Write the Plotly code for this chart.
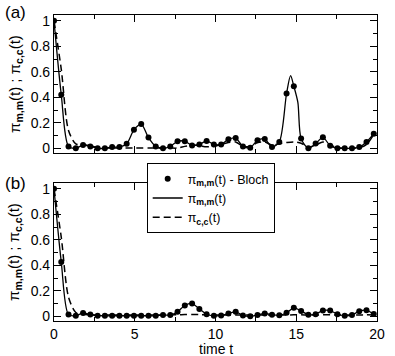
import plotly.graph_objects as go

# time grid of the Bloch points (dt = 0.45)
t = [0.45 * i for i in range(45)]

# panel (a)
bloch_a = [1.0, 0.42, 0.015, 0.0, 0.025, 0.015, 0.0, 0.0, 0.01, 0.01,
           0.035, 0.145, 0.19, 0.084, 0.015, 0.0, 0.015, 0.055, 0.055, 0.022,
           0.03, 0.058, 0.03, 0.03, 0.07, 0.08, 0.015, 0.005, 0.063, 0.073,
           0.01, 0.05, 0.43, 0.487, 0.076, 0.0, 0.037, 0.086, 0.02, 0.0,
           0.0, 0.0, 0.01, 0.05, 0.115]
# extra points of the solid curve around the big peak
peak_t_a = [14.65, 15.1]
peak_v_a = [0.57, 0.36]
pcc_a = [1.0, 0.62, 0.14, 0.035, 0.03, 0.02, 0.005, 0.002, 0.002, 0.002,
         0.002, 0.002, 0.002, 0.002, 0.002, 0.002, 0.002, 0.002, 0.015, 0.025,
         0.02, 0.012, 0.015, 0.03, 0.045, 0.05, 0.015, 0.015, 0.045, 0.05,
         0.025, 0.035, 0.045, 0.05, 0.04, 0.01, 0.025, 0.05, 0.025, 0.005,
         0.0, 0.0, 0.005, 0.03, 0.11]

# panel (b)
bloch_b = [1.0, 0.426, 0.013, 0.005, 0.026, 0.013, 0.005, 0.004, 0.004, 0.004,
           0.004, 0.004, 0.004, 0.004, 0.004, 0.01, 0.01, 0.035, 0.085, 0.1,
           0.058, 0.016, 0.004, 0.006, 0.022, 0.035, 0.006, 0.0, 0.01, 0.022,
           0.012, 0.008, 0.028, 0.066, 0.042, 0.012, 0.016, 0.046, 0.045, 0.016,
           0.004, 0.01, 0.04, 0.047, 0.017]
pcc_b = [1.0, 0.62, 0.15, 0.03, 0.015, 0.012, 0.01, 0.01, 0.01, 0.01,
         0.01, 0.01, 0.01, 0.01, 0.01, 0.01, 0.01, 0.012, 0.013, 0.014,
         0.013, 0.012, 0.01, 0.01, 0.01, 0.01, 0.01, 0.01, 0.01, 0.01,
         0.01, 0.01, 0.01, 0.012, 0.012, 0.01, 0.01, 0.012, 0.012, 0.01,
         0.01, 0.01, 0.01, 0.012, 0.01]

solid_a = sorted(zip(t + peak_t_a, bloch_a + peak_v_a))

FONT = "Liberation Sans, Arial, sans-serif"
name_bloch = "π<sub><b>m,m</b></sub>(t) - Bloch"
name_mm = "π<sub><b>m,m</b></sub>(t)"
name_cc = "π<sub><b>c,c</b></sub>(t)"
ytitle = "π<sub><b>m,m</b></sub>(t) ; π<sub><b>c,c</b></sub>(t)"

fig = go.Figure()

# top panel
fig.add_trace(go.Scatter(x=t, y=bloch_a, mode="markers", name=name_bloch,
                         marker=dict(color="black", size=6), xaxis="x", yaxis="y"))
fig.add_trace(go.Scatter(x=[p[0] for p in solid_a], y=[p[1] for p in solid_a],
                         mode="lines", name=name_mm, line=dict(color="black", width=1.3, shape="spline", smoothing=0.8),
                         xaxis="x", yaxis="y"))
fig.add_trace(go.Scatter(x=t, y=pcc_a, mode="lines", name=name_cc,
                         line=dict(color="black", width=1.5, dash="7px,4px", shape="spline", smoothing=0.8),
                         xaxis="x", yaxis="y"))

# bottom panel
fig.add_trace(go.Scatter(x=t, y=bloch_b, mode="markers", showlegend=False,
                         marker=dict(color="black", size=6), xaxis="x2", yaxis="y2"))
fig.add_trace(go.Scatter(x=t, y=bloch_b, mode="lines", showlegend=False,
                         line=dict(color="black", width=1.3, shape="spline", smoothing=0.8),
                         xaxis="x2", yaxis="y2"))
fig.add_trace(go.Scatter(x=t, y=pcc_b, mode="lines", showlegend=False,
                         line=dict(color="black", width=1.5, dash="7px,4px", shape="spline", smoothing=0.8),
                         xaxis="x2", yaxis="y2"))

xcommon = dict(range=[0, 20], dtick=5, ticks="inside", ticklen=7, tickwidth=1,
               minor=dict(ticks="inside", ticklen=4, dtick=2.5, tickcolor="black"),
               showline=True, linecolor="black", linewidth=1.2, mirror="ticks",
               showgrid=False, zeroline=False, tickcolor="black",
               tickfont=dict(size=14, color="black"))
ycommon = dict(range=[-0.037, 1.046], tickvals=[0, 0.2, 0.4, 0.6, 0.8, 1],
               ticktext=["0", "0.2", "0.4", "0.6", "0.8", "1"],
               ticks="inside", ticklen=7, tickwidth=1,
               minor=dict(ticks="inside", ticklen=4, dtick=0.1, tickcolor="black"),
               showline=True, linecolor="black", linewidth=1.2, mirror="ticks",
               showgrid=False, zeroline=False, tickcolor="black",
               tickfont=dict(size=14, color="black"))

fig.update_layout(
    width=395, height=356,
    margin=dict(l=54, r=10, t=15, b=35),
    paper_bgcolor="white", plot_bgcolor="white",
    font=dict(family=FONT, color="black"),
    xaxis=dict(xcommon, domain=[0, 1], anchor="y", showticklabels=False),
    yaxis=dict(ycommon, domain=[0.549, 1.0], anchor="x"),
    xaxis2=dict(xcommon, domain=[0, 1], anchor="y2"),
    yaxis2=dict(ycommon, domain=[0.0, 0.451], anchor="x2"),
    legend=dict(x=0.287, y=0.516, xanchor="left", yanchor="top",
                bgcolor="white", bordercolor="black", borderwidth=1,
                font=dict(size=12.5), tracegroupgap=0),
    showlegend=True,
    annotations=[
        dict(text=ytitle, xref="paper", yref="paper", x=-0.121, y=0.7745,
             textangle=-90, showarrow=False, font=dict(size=15), xanchor="center", yanchor="middle"),
        dict(text=ytitle, xref="paper", yref="paper", x=-0.121, y=0.2255,
             textangle=-90, showarrow=False, font=dict(size=15), xanchor="center", yanchor="middle"),
        dict(text="(a)", xref="paper", yref="paper", x=-0.157, y=1.0098,
             showarrow=False, font=dict(size=17), xanchor="left", yanchor="middle"),
        dict(text="(b)", xref="paper", yref="paper", x=-0.157, y=0.448,
             showarrow=False, font=dict(size=17), xanchor="left", yanchor="middle"),
        dict(text="time t", xref="paper", yref="paper", x=0.5, y=-0.091,
             showarrow=False, font=dict(size=14), xanchor="center", yanchor="middle"),
    ],
)

fig.write_html("out.html", config={"displayModeBar": False},
               post_script="document.body.style.margin='0';")
